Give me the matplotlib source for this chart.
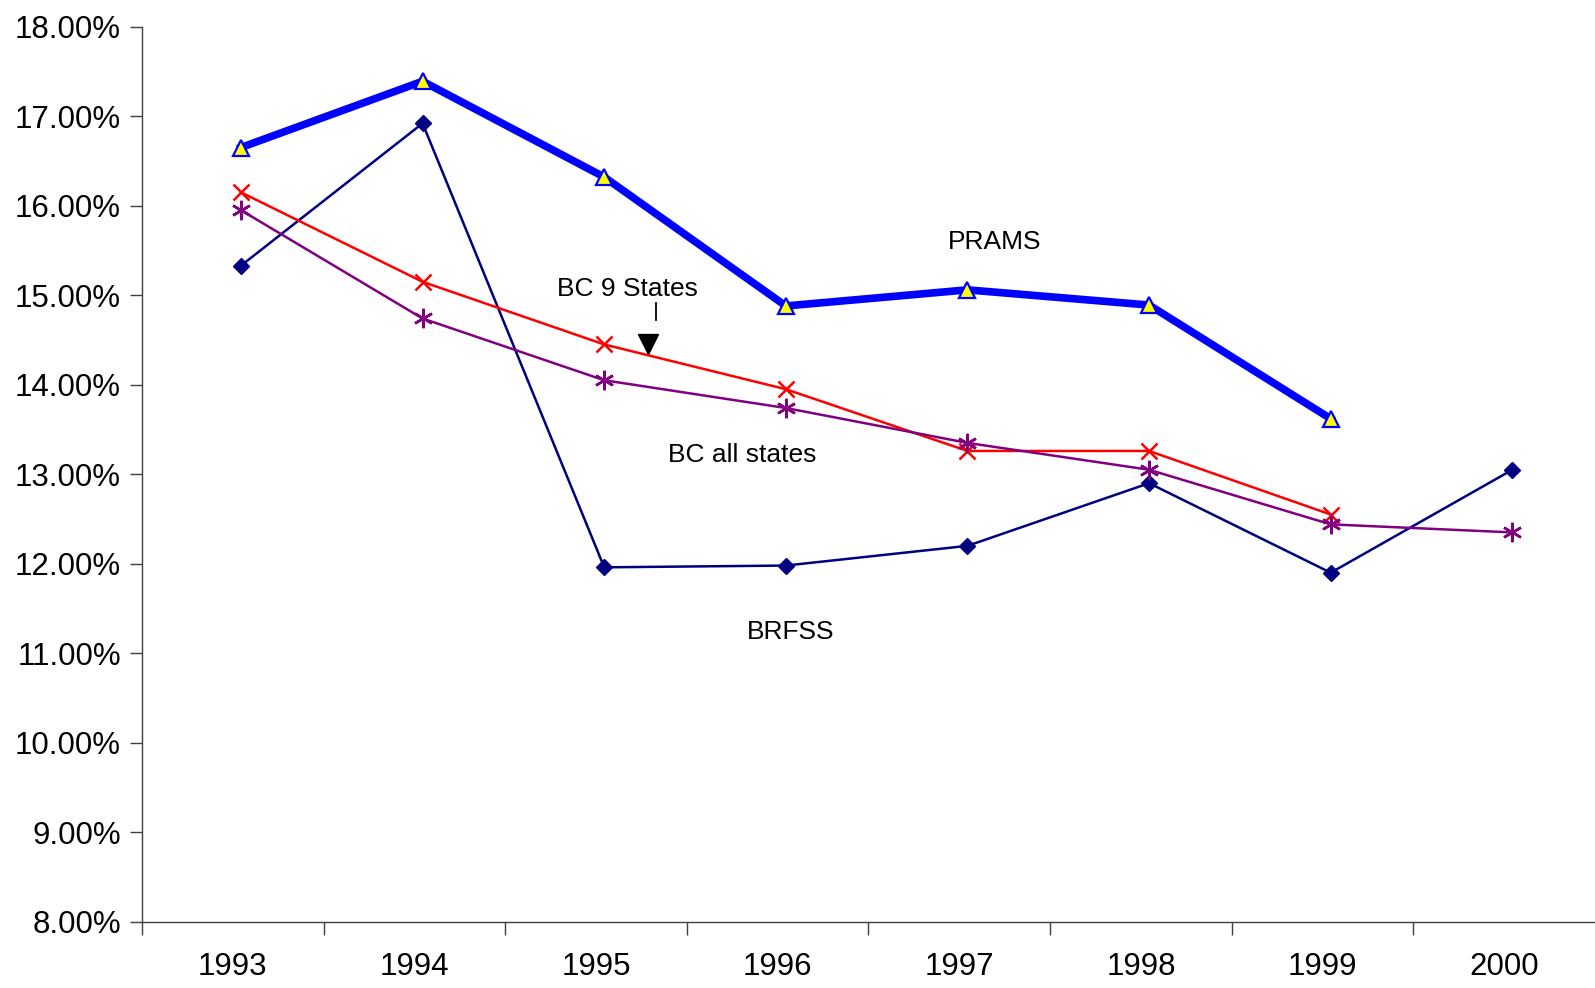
import matplotlib
matplotlib.use('Agg')
import matplotlib.pyplot as plt
from matplotlib.ticker import FuncFormatter, FixedLocator

plt.rcParams['font.family'] = ['Liberation Sans', 'DejaVu Sans']

years = ['1993', '1994', '1995', '1996', '1997', '1998', '1999', '2000']
prams = [16.65, 17.39, 16.32, 14.88, 15.06, 14.89, 13.62]
brfss = [15.33, 16.92, 11.96, 11.98, 12.20, 12.90, 11.90, 13.05]
bc_9_states = [16.15, 15.15, 14.45, 13.95, 13.26, 13.26, 12.55]
bc_all_states = [15.95, 14.74, 14.05, 13.74, 13.35, 13.05, 12.44, 12.35]

fig = plt.figure(figsize=(15.95, 9.88), dpi=100)
ax = fig.add_axes([0.089, 0.067, 0.911, 0.906])

shift = 0.045  # markers sit a bit right of the category centre
def xs(vals):
    return [i + shift for i in range(len(vals))]

ax.plot(xs(prams), prams, color='#0000FF', lw=5.5, marker='^', ms=11,
        mfc='#FFFF00', mec='#0000FF', mew=1.6, zorder=4)
ax.plot(xs(brfss), brfss, color='#000080', lw=1.8, marker='D', ms=8.5,
        mfc='#000080', mec='#000080', zorder=3)
ax.plot(xs(bc_9_states), bc_9_states, color='#FF0000', lw=1.8, marker='x',
        ms=12, mew=1.8, zorder=3)
ax.plot(xs(bc_all_states), bc_all_states, color='#800080', lw=1.8, marker=(6, 2, 0),
        ms=14, mew=1.8, zorder=3)

# series labels
ax.text(4.196, 15.60, 'PRAMS', fontsize=19, ha='center', va='center')
ax.text(2.174, 15.07, 'BC 9 States', fontsize=19, ha='center', va='center')
ax.text(2.807, 13.21, 'BC all states', fontsize=19, ha='center', va='center')
ax.text(3.07, 11.24, 'BRFSS', fontsize=19, ha='center', va='center')
ax.plot([2.33, 2.33], [14.91, 14.72], color='black', lw=1.3)
ax.plot([2.286], [14.46], marker='v', ms=15, color='black')

ax.set_xlim(-0.5, 7.5)
ax.set_ylim(8, 18)
ax.set_yticks([8 + i for i in range(11)])
ax.yaxis.set_major_formatter(FuncFormatter(lambda v, p: '%.2f%%' % v))
ax.set_xticks(range(len(years)))
ax.set_xticklabels(years)
ax.xaxis.set_minor_locator(FixedLocator([i - 0.5 for i in range(len(years))]))
ax.tick_params(axis='x', which='major', length=0, pad=22, labelsize=22.5)
ax.tick_params(axis='x', which='minor', length=9, width=1, color='#404040', direction='out')
ax.tick_params(axis='y', length=9, width=1, color='#404040', labelsize=22.5, pad=6)

ax.spines['top'].set_visible(False)
ax.spines['right'].set_visible(False)
for s in ['left', 'bottom']:
    ax.spines[s].set_color('#404040')
    ax.spines[s].set_linewidth(1)

fig.savefig('out.png', dpi=100)
